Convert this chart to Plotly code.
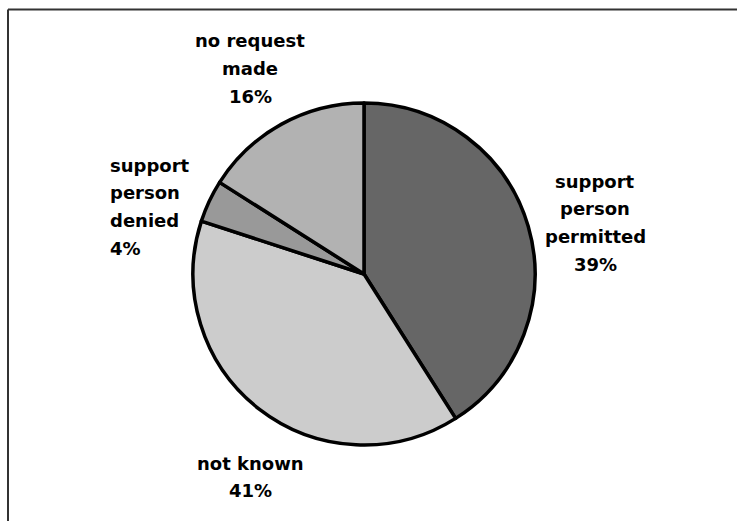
import plotly.graph_objects as go

# Slice sizes as drawn (degrees -> percent)
categories = ["support person permitted", "not known", "support person denied", "no request made"]
shares = [41, 39, 4, 16]
# Percent values as printed on the chart labels
pct_labels = [39, 41, 4, 16]
label_lines = [
    ["support", "person", "permitted"],
    ["not known"],
    ["support", "person", "denied"],
    ["no request", "made"],
]
colors = ["#666666", "#cccccc", "#999999", "#b2b2b2"]

W, H = 737, 521
cx, cy, r = 364, 274, 171

fig = go.Figure(go.Pie(
    labels=categories,
    values=shares,
    sort=False,
    direction="clockwise",
    rotation=0,
    textinfo="none",
    hoverinfo="label+percent",
    marker=dict(colors=colors, line=dict(color="#000000", width=3.5)),
    domain=dict(x=[(cx - r) / W, (cx + r) / W], y=[1 - (cy + r) / H, 1 - (cy - r) / H]),
    showlegend=False,
))

# label placement (pixel anchor of first line, alignment)
placements = [
    (595, 181, "center"),
    (250, 463, "center"),
    (108, 165, "left"),
    (250, 41, "center"),
]
spacing = 27.8
annotations = []
for lines, pct, (px, py, align) in zip(label_lines, pct_labels, placements):
    all_lines = lines + [f"{pct}%"]
    for i, t in enumerate(all_lines):
        annotations.append(dict(
            x=px / W, y=1 - (py + i * spacing) / H, xref="paper", yref="paper",
            text="<b>" + t + "</b>", showarrow=False,
            xanchor="center" if align == "center" else "left", yanchor="middle",
            font=dict(family="DejaVu Sans", size=18, color="#000000"),
        ))

shapes = [
    dict(type="line", xref="paper", yref="paper", x0=8 / W, x1=1, y0=1 - 9.5 / H, y1=1 - 9.5 / H,
         line=dict(color="#333333", width=2)),
    dict(type="line", xref="paper", yref="paper", x0=8 / W, x1=8 / W, y0=1 - 9.5 / H, y1=0,
         line=dict(color="#333333", width=2)),
]

fig.update_layout(
    width=W, height=H,
    margin=dict(l=0, r=0, t=0, b=0),
    paper_bgcolor="#ffffff",
    plot_bgcolor="#ffffff",
    annotations=annotations,
    shapes=shapes,
)

fig.write_html("out.html")
